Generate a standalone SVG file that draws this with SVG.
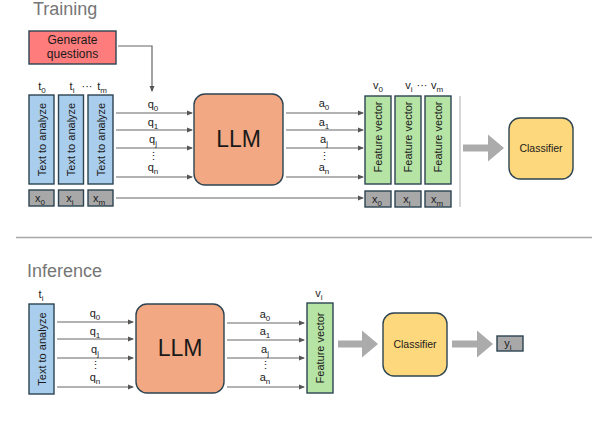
<svg xmlns="http://www.w3.org/2000/svg" width="592" height="428" viewBox="0 0 592 428">
<defs>
<style>
text{font-family:"Liberation Sans",Arial,sans-serif;fill:#1a1a1a}
.title{font-size:18px;fill:#767676}
.txt{fill:#a9cdec;stroke:#2d4452;stroke-width:1.4}
.fv{fill:#b6e4a4;stroke:#2d4452;stroke-width:1.4}
.xb{fill:#a8a8a8;stroke:#2d4452;stroke-width:1.4}
.llm{fill:#f2a983;stroke:#2d4452;stroke-width:1.4}
.cls{fill:#fed87c;stroke:#2d4452;stroke-width:1.4}
.gen{fill:#fe7c7c;stroke:#2d4452;stroke-width:1.4}
.vt{font-size:11px;text-anchor:middle}
.lb{font-size:11px;text-anchor:middle}
.sub{font-size:8px}
.ln{stroke:#666;stroke-width:1.2;fill:none}
.big{fill:#ababab}
</style>
<marker id="ah" viewBox="0 0 6 6" refX="5" refY="3" markerWidth="6" markerHeight="6" markerUnits="userSpaceOnUse" orient="auto">
<path d="M0,0.5 L6,3 L0,5.5 z" fill="#555"/>
</marker>
</defs>
<rect width="592" height="428" fill="#fff"/>

<text class="title" x="33" y="15">Training</text>
<text class="title" x="27" y="277">Inference</text>
<line x1="16" y1="237.5" x2="592" y2="237.5" stroke="#a6a6a6" stroke-width="1.6"/>
<line x1="460" y1="96" x2="460" y2="207" stroke="#c8c8c8" stroke-width="1.5"/>

<g id="connectors">
<polyline class="ln" points="118,46 152,46 152,91" marker-end="url(#ah)"/>
<line class="ln" x1="116" y1="113" x2="192" y2="113" marker-end="url(#ah)"/>
<line class="ln" x1="116" y1="130" x2="192" y2="130" marker-end="url(#ah)"/>
<line class="ln" x1="116" y1="148" x2="192" y2="148" marker-end="url(#ah)"/>
<line class="ln" x1="116" y1="177" x2="192" y2="177" marker-end="url(#ah)"/>
<line class="ln" x1="286" y1="113" x2="363" y2="113" marker-end="url(#ah)"/>
<line class="ln" x1="286" y1="130" x2="363" y2="130" marker-end="url(#ah)"/>
<line class="ln" x1="286" y1="148" x2="363" y2="148" marker-end="url(#ah)"/>
<line class="ln" x1="286" y1="177" x2="363" y2="177" marker-end="url(#ah)"/>
<line class="ln" x1="116" y1="198" x2="363" y2="198" marker-end="url(#ah)"/>
<path class="big" d="M463,144.5 H488 V134.5 L504,148 L488,161.5 V151.5 H463 Z"/>

<line class="ln" x1="57" y1="322" x2="133" y2="322" marker-end="url(#ah)"/>
<line class="ln" x1="57" y1="339" x2="133" y2="339" marker-end="url(#ah)"/>
<line class="ln" x1="57" y1="358" x2="133" y2="358" marker-end="url(#ah)"/>
<line class="ln" x1="57" y1="387" x2="133" y2="387" marker-end="url(#ah)"/>
<line class="ln" x1="227" y1="323" x2="304" y2="323" marker-end="url(#ah)"/>
<line class="ln" x1="227" y1="340" x2="304" y2="340" marker-end="url(#ah)"/>
<line class="ln" x1="227" y1="358" x2="304" y2="358" marker-end="url(#ah)"/>
<line class="ln" x1="227" y1="387" x2="304" y2="387" marker-end="url(#ah)"/>
<path class="big" d="M338,340.5 H362 V330.5 L378,344 L362,357.5 V347.5 H338 Z"/>
<path class="big" d="M452,340.5 H477 V330.5 L493,344 L477,357.5 V347.5 H452 Z"/>

<g class="lb">
<text x="153" y="108">q<tspan class="sub" dy="2.5">0</tspan></text>
<text x="153" y="126">q<tspan class="sub" dy="2.5">1</tspan></text>
<text x="153" y="143">q<tspan class="sub" dy="2.5">j</tspan></text>
<text x="153" y="160">⋮</text>
<text x="153" y="171">q<tspan class="sub" dy="2.5">n</tspan></text>
<text x="324" y="107">a<tspan class="sub" dy="2.5">0</tspan></text>
<text x="324" y="126">a<tspan class="sub" dy="2.5">1</tspan></text>
<text x="324" y="143">a<tspan class="sub" dy="2.5">j</tspan></text>
<text x="324" y="160">⋮</text>
<text x="324" y="171">a<tspan class="sub" dy="2.5">n</tspan></text>
<text x="95" y="317">q<tspan class="sub" dy="2.5">0</tspan></text>
<text x="95" y="335">q<tspan class="sub" dy="2.5">1</tspan></text>
<text x="95" y="353">q<tspan class="sub" dy="2.5">j</tspan></text>
<text x="95" y="369">⋮</text>
<text x="95" y="381">q<tspan class="sub" dy="2.5">n</tspan></text>
<text x="265" y="318">a<tspan class="sub" dy="2.5">0</tspan></text>
<text x="265" y="335">a<tspan class="sub" dy="2.5">1</tspan></text>
<text x="265" y="353">a<tspan class="sub" dy="2.5">j</tspan></text>
<text x="265" y="369">⋮</text>
<text x="265" y="381">a<tspan class="sub" dy="2.5">n</tspan></text>
</g>
</g>

<g id="generate">
<rect class="gen" x="29" y="31" width="87" height="33"/>
<text x="72.5" y="44" font-size="12" text-anchor="middle">Generate</text>
<text x="72.5" y="58" font-size="12" text-anchor="middle">questions</text>
</g>

<g id="texts-train">
<rect class="txt" x="29" y="95" width="25" height="89"/>
<rect class="txt" x="58.5" y="95" width="25" height="89"/>
<rect class="txt" x="88" y="95" width="25" height="89"/>
<text class="vt" transform="translate(45.5,139.5) rotate(-90)">Text to analyze</text>
<text class="vt" transform="translate(75,139.5) rotate(-90)">Text to analyze</text>
<text class="vt" transform="translate(104.5,139.5) rotate(-90)">Text to analyze</text>
<text class="lb" x="42" y="90">t<tspan class="sub" dy="2.5">0</tspan></text>
<text class="lb" x="72" y="90">t<tspan class="sub" dy="2.5">i</tspan></text>
<text class="lb" x="87" y="90">···</text>
<text class="lb" x="102" y="90">t<tspan class="sub" dy="2.5">m</tspan></text>
</g>

<g id="x-train">
<rect class="xb" x="29" y="190" width="25" height="16"/>
<rect class="xb" x="58.5" y="190" width="25" height="16"/>
<rect class="xb" x="88" y="190" width="25" height="16"/>
<text class="lb" x="40" y="202">x<tspan class="sub" dy="2.5">0</tspan></text>
<text class="lb" x="70" y="202">x<tspan class="sub" dy="2.5">i</tspan></text>
<text class="lb" x="99" y="202">x<tspan class="sub" dy="2.5">m</tspan></text>
</g>

<g id="llm-train">
<rect class="llm" x="194" y="94" width="89" height="91" rx="11"/>
<text x="238.5" y="147" font-size="23" text-anchor="middle">LLM</text>
</g>

<g id="fv-train">
<rect class="fv" x="365" y="96" width="26" height="88"/>
<rect class="fv" x="395" y="96" width="26" height="88"/>
<rect class="fv" x="425" y="96" width="26" height="88"/>
<text class="vt" transform="translate(382,137) rotate(-90)">Feature vector</text>
<text class="vt" transform="translate(412,137) rotate(-90)">Feature vector</text>
<text class="vt" transform="translate(442,137) rotate(-90)">Feature vector</text>
<text class="lb" x="378" y="89">v<tspan class="sub" dy="2.5">0</tspan></text>
<text class="lb" x="409" y="89">v<tspan class="sub" dy="2.5">i</tspan></text>
<text class="lb" x="422" y="89">···</text>
<text class="lb" x="437" y="89">v<tspan class="sub" dy="2.5">m</tspan></text>
</g>

<g id="x-fv">
<rect class="xb" x="365" y="191" width="26" height="16"/>
<rect class="xb" x="395" y="191" width="26" height="16"/>
<rect class="xb" x="425" y="191" width="26" height="16"/>
<text class="lb" x="377" y="203">x<tspan class="sub" dy="2.5">0</tspan></text>
<text class="lb" x="407" y="203">x<tspan class="sub" dy="2.5">i</tspan></text>
<text class="lb" x="437" y="203">x<tspan class="sub" dy="2.5">m</tspan></text>
</g>

<g id="classifier-train">
<rect class="cls" x="509" y="118" width="64" height="61" rx="11"/>
<text x="541" y="152" font-size="10.5" text-anchor="middle">Classifier</text>
</g>

<g id="text-inf">
<rect class="txt" x="29" y="304" width="25" height="90"/>
<text class="vt" transform="translate(45.5,349) rotate(-90)">Text to analyze</text>
<text class="lb" x="41" y="298">t<tspan class="sub" dy="2.5">i</tspan></text>
</g>

<g id="llm-inf">
<rect class="llm" x="136" y="304" width="88" height="89" rx="11"/>
<text x="180" y="356" font-size="23" text-anchor="middle">LLM</text>
</g>

<g id="fv-inf">
<rect class="fv" x="307" y="303" width="26" height="90"/>
<text class="vt" transform="translate(324,348) rotate(-90)">Feature vector</text>
<text class="lb" x="319" y="297">v<tspan class="sub" dy="2.5">i</tspan></text>
</g>

<g id="classifier-inf">
<rect class="cls" x="383" y="313" width="64" height="63" rx="11"/>
<text x="415" y="348" font-size="10.5" text-anchor="middle">Classifier</text>
</g>

<g id="y-inf">
<rect class="xb" x="497" y="336" width="26" height="15"/>
<text class="lb" x="508" y="347">y<tspan class="sub" dy="2.5">i</tspan></text>
</g>
</svg>
